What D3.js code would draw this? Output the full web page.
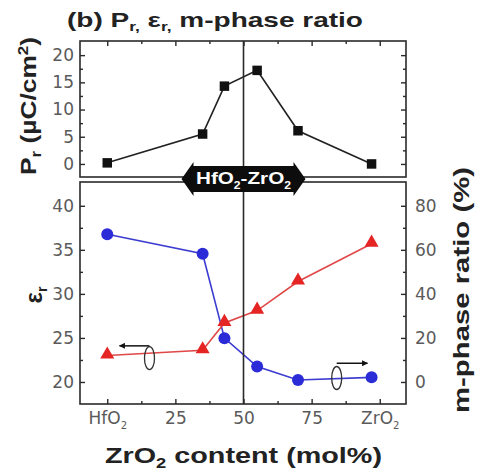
<!DOCTYPE html>
<html>
<head>
<meta charset="utf-8">
<script src="https://cdn.jsdelivr.net/npm/d3@7"></script>
<style>
  html, body { margin: 0; padding: 0; background: #fff; }
  svg { display: block; }
</style>
</head>
<body>
<svg id="chart" width="477" height="476"></svg>
<script>
// ZrO2 content of each film (mol%)
const zrContent = [0, 35, 43, 55, 70, 97];
// Remanent polarization Pr (µC/cm²)
const prValues = [0.2, 5.5, 14.3, 17.2, 6.1, 0.0];
// Dielectric constant εr
const epsValues = [23.0, 23.6, 26.7, 28.1, 31.4, 35.7];
// Monoclinic phase ratio (%)
const mPhaseValues = [67.1, 58.2, 19.9, 7.0, 0.9, 2.1];

// Axis ticks
const xTicks = [0, 25, 50, 75, 100];
const xTickLabels = [["HfO", "2"], ["25"], ["50"], ["75"], ["ZrO", "2"]];
const xMinor = [12.5, 37.5, 62.5, 87.5];
const prTicks = [0, 5, 10, 15, 20];
const prMinor = [2.5, 7.5, 12.5, 17.5];
const epsTicks = [20, 25, 30, 35, 40];
const epsMinor = [22.5, 27.5, 32.5, 37.5];
const mTicks = [0, 20, 40, 60, 80];
const mMinor = [10, 30, 50, 70];

const svg = d3.select("#chart");
const TICK_FONT = "'DejaVu Sans', 'Liberation Sans', sans-serif";
const LABEL_FONT = "'Liberation Sans', Arial, sans-serif";
const INK = "#2a2a2a";
const TICK_INK = "#5a5a5a";

const left = 80, right = 406;
const topPanel = { top: 41, bottom: 177 };
const botPanel = { top: 182, bottom: 404 };

const x = d3.scaleLinear().domain([-10, 110]).range([left, right + 1]);
const yPr = d3.scaleLinear().domain([-2.4, 22.6]).range([topPanel.bottom, topPanel.top]);
const yEps = d3.scaleLinear().domain([17.5, 42.7]).range([botPanel.bottom, botPanel.top]);
const yM = d3.scaleLinear().domain([-10, 90.8]).range([botPanel.bottom, botPanel.top]);

function styleAxis(g) {
  g.select(".domain").remove();
  g.selectAll(".tick line").attr("stroke", INK).attr("stroke-width", 1.4);
  g.selectAll(".tick text")
    .attr("fill", TICK_INK)
    .style("font-family", TICK_FONT)
    .style("font-size", "17px");
}

function addAxis(axis, tx, ty) {
  const g = svg.append("g").attr("transform", `translate(${tx},${ty})`).call(axis);
  styleAxis(g);
  return g;
}

// ---------- Top panel: Pr ----------
addAxis(d3.axisLeft(yPr).tickValues(prTicks).tickSize(-5).tickPadding(6), left, 0);
addAxis(d3.axisLeft(yPr).tickValues(prMinor).tickSize(-3).tickFormat(""), left, 0);
addAxis(d3.axisRight(yPr).tickValues(prTicks).tickSize(-5).tickFormat(""), right, 0);
addAxis(d3.axisRight(yPr).tickValues(prMinor).tickSize(-3).tickFormat(""), right, 0);
addAxis(d3.axisTop(x).tickValues(xTicks).tickSize(-5).tickFormat(""), 0, topPanel.top);
addAxis(d3.axisTop(x).tickValues(xMinor).tickSize(-3).tickFormat(""), 0, topPanel.top);

svg.append("rect")
  .attr("x", left).attr("y", topPanel.top)
  .attr("width", right - left).attr("height", topPanel.bottom - topPanel.top)
  .attr("fill", "none").attr("stroke", INK).attr("stroke-width", 1.6);

const prData = zrContent.map((c, i) => ({ c, v: prValues[i] }));
svg.append("path")
  .datum(prData)
  .attr("fill", "none").attr("stroke", "#222").attr("stroke-width", 1.6)
  .attr("d", d3.line().x(d => x(d.c)).y(d => yPr(d.v)));
svg.append("g").selectAll("path")
  .data(prData).join("path")
  .attr("transform", d => `translate(${x(d.c)},${yPr(d.v)})`)
  .attr("d", d3.symbol(d3.symbolSquare, 90))
  .attr("fill", "#111");

// ---------- Bottom panel: εr and m-phase ratio ----------
addAxis(d3.axisLeft(yEps).tickValues(epsTicks).tickSize(-5).tickPadding(6), left, 0);
addAxis(d3.axisLeft(yEps).tickValues(epsMinor).tickSize(-3).tickFormat(""), left, 0);
addAxis(d3.axisRight(yM).tickValues(mTicks).tickSize(-5).tickPadding(9), right, 0);
addAxis(d3.axisRight(yM).tickValues(mMinor).tickSize(-3).tickFormat(""), right, 0);
const xAxisG = addAxis(d3.axisBottom(x).tickValues(xTicks).tickSize(-5).tickPadding(9)
  .tickFormat(""), 0, botPanel.bottom);
addAxis(d3.axisBottom(x).tickValues(xMinor).tickSize(-3).tickFormat(""), 0, botPanel.bottom);

// x tick labels with chemical subscripts
xAxisG.selectAll(".tick text").each(function(d, i) {
  const t = d3.select(this).text(null).attr("y", 8).attr("dy", "0.71em");
  const parts = xTickLabels[i];
  t.append("tspan").text(parts[0]);
  if (parts[1]) {
    t.append("tspan").text(parts[1]).attr("dy", "5").style("font-size", "10px");
  }
});

svg.append("rect")
  .attr("x", left).attr("y", botPanel.top)
  .attr("width", right - left).attr("height", botPanel.bottom - botPanel.top)
  .attr("fill", "none").attr("stroke", INK).attr("stroke-width", 1.6);

// m-phase ratio (right axis)
const blue = "#2b2bd8";
const mData = zrContent.map((c, i) => ({ c, v: mPhaseValues[i] }));
svg.append("path")
  .datum(mData)
  .attr("fill", "none").attr("stroke", "#3c3cd0").attr("stroke-width", 1.6)
  .attr("d", d3.line().x(d => x(d.c)).y(d => yM(d.v)));
svg.append("g").selectAll("circle")
  .data(mData).join("circle")
  .attr("cx", d => x(d.c)).attr("cy", d => yM(d.v)).attr("r", 6)
  .attr("fill", blue);

// εr (left axis)
const red = "#e52424";
const epsData = zrContent.map((c, i) => ({ c, v: epsValues[i] }));
svg.append("path")
  .datum(epsData)
  .attr("fill", "none").attr("stroke", "#e04848").attr("stroke-width", 1.6)
  .attr("d", d3.line().x(d => x(d.c)).y(d => yEps(d.v)));
svg.append("g").selectAll("path")
  .data(epsData).join("path")
  .attr("transform", d => `translate(${x(d.c)},${yEps(d.v) - 1})`)
  .attr("d", d3.symbol(d3.symbolTriangle, 85))
  .attr("fill", red);

// Series-to-axis indicators (ellipse with arrow)
svg.append("defs").append("marker")
  .attr("id", "head").attr("viewBox", "0 0 10 10")
  .attr("refX", 9).attr("refY", 5)
  .attr("markerWidth", 7).attr("markerHeight", 6)
  .attr("markerUnits", "userSpaceOnUse")
  .attr("orient", "auto")
  .append("path").attr("d", "M0,0 L10,5 L0,10 Z").attr("fill", "#111");

function indicator(cx, cy, ay, ax2) {
  svg.append("ellipse")
    .attr("cx", cx).attr("cy", cy).attr("rx", 5).attr("ry", 11.5)
    .attr("fill", "none").attr("stroke", "#333").attr("stroke-width", 1.3);
  svg.append("line")
    .attr("x1", cx).attr("y1", ay).attr("x2", ax2).attr("y2", ay)
    .attr("stroke", "#111").attr("stroke-width", 1.5)
    .attr("marker-end", "url(#head)");
}
indicator(x(15.5), yEps(22.7), yEps(24.1), x(4.5));
indicator(x(84.2), yM(1.8), yM(8.5), x(95.5));

// ---------- Composition divider and banner ----------
const cx = x(50);
svg.append("line")
  .attr("x1", cx).attr("x2", cx)
  .attr("y1", topPanel.top).attr("y2", botPanel.bottom)
  .attr("stroke", INK).attr("stroke-width", 1.6);

const cy = 179;
svg.append("path")
  .attr("d", `M${cx - 62},${cy} L${cx - 50},${cy - 17} L${cx - 50},${cy - 13}
              L${cx + 50},${cy - 13} L${cx + 50},${cy - 17} L${cx + 62},${cy}
              L${cx + 50},${cy + 17} L${cx + 50},${cy + 13} L${cx - 50},${cy + 13}
              L${cx - 50},${cy + 17} Z`)
  .attr("fill", "#0d0d0d");
const banner = svg.append("text")
  .attr("x", cx).attr("y", cy + 5)
  .attr("text-anchor", "middle")
  .attr("textLength", 95).attr("lengthAdjust", "spacingAndGlyphs")
  .attr("fill", "#fff")
  .style("font-family", LABEL_FONT).style("font-weight", "bold").style("font-size", "17px");
banner.append("tspan").text("HfO");
banner.append("tspan").text("2").attr("dy", 5).style("font-size", "10px");
banner.append("tspan").text("-ZrO").attr("dy", -5);
banner.append("tspan").text("2").attr("dy", 5).style("font-size", "10px");

// ---------- Titles and axis labels ----------
const title = svg.append("text")
  .attr("x", 67).attr("y", 27)
  .attr("textLength", 296).attr("lengthAdjust", "spacingAndGlyphs")
  .attr("fill", "#222")
  .style("font-family", LABEL_FONT).style("font-weight", "bold").style("font-size", "21px");
title.append("tspan").text("(b) P");
title.append("tspan").text("r,").attr("dy", 4).style("font-size", "13px");
title.append("tspan").text(" ε").attr("dy", -4);
title.append("tspan").text("r,").attr("dy", 4).style("font-size", "13px");
title.append("tspan").text(" m-phase ratio").attr("dy", -4);

const prLabel = svg.append("text")
  .attr("transform", `translate(36,106) rotate(-90)`)
  .attr("text-anchor", "middle")
  .attr("textLength", 138).attr("lengthAdjust", "spacingAndGlyphs")
  .attr("fill", "#222")
  .style("font-family", LABEL_FONT).style("font-weight", "bold").style("font-size", "22px");
prLabel.append("tspan").text("P");
prLabel.append("tspan").text("r").attr("dy", 5).style("font-size", "14px");
prLabel.append("tspan").text(" (µC/cm").attr("dy", -5);
prLabel.append("tspan").text("2").attr("dy", -8).style("font-size", "14px");
prLabel.append("tspan").text(")").attr("dy", 8);

const epsLabel = svg.append("text")
  .attr("transform", `translate(42,295) rotate(-90)`)
  .attr("text-anchor", "middle")
  .attr("fill", "#222")
  .style("font-family", LABEL_FONT).style("font-weight", "bold").style("font-size", "24px");
epsLabel.append("tspan").text("ε");
epsLabel.append("tspan").text("r").attr("dy", 5).style("font-size", "14px");

svg.append("text")
  .attr("transform", `translate(469,290) rotate(-90)`)
  .attr("text-anchor", "middle")
  .attr("textLength", 246).attr("lengthAdjust", "spacingAndGlyphs")
  .attr("fill", "#222")
  .style("font-family", LABEL_FONT).style("font-weight", "bold").style("font-size", "22px")
  .text("m-phase ratio (%)");

const xLabel = svg.append("text")
  .attr("x", 105).attr("y", 463)
  .attr("textLength", 277).attr("lengthAdjust", "spacingAndGlyphs")
  .attr("fill", "#222")
  .style("font-family", LABEL_FONT).style("font-weight", "bold").style("font-size", "22px");
xLabel.append("tspan").text("ZrO");
xLabel.append("tspan").text("2").attr("dy", 5).style("font-size", "14px");
xLabel.append("tspan").text(" content (mol%)").attr("dy", -5);
</script>
</body>
</html>
